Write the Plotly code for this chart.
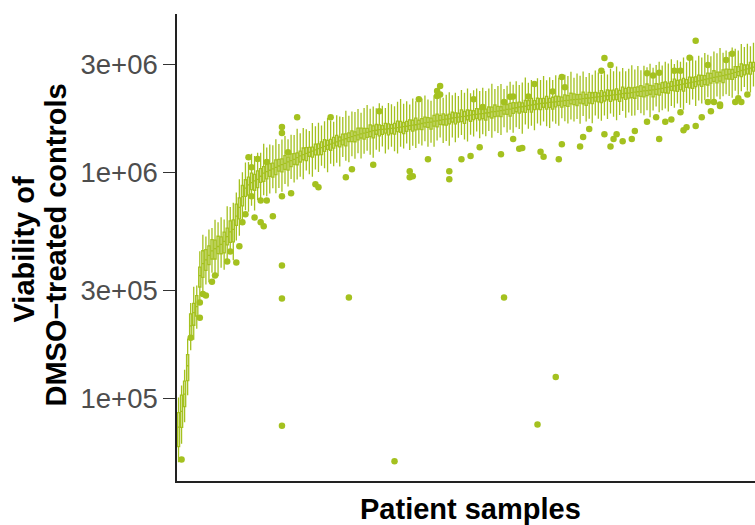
import plotly.graph_objects as go
import numpy as np

# Medians per patient sample (thousands), sorted ascending
median_k = [
    75, 88, 105, 140, 210, 240, 255, 350, 395, 410,
    430, 450, 460, 470, 480, 495, 520, 545, 560, 640,
    700, 780, 850, 880, 900, 915, 930, 960, 990, 1005,
    1020, 1035, 1050, 1065, 1080, 1095, 1110, 1125, 1140, 1160,
    1180, 1195, 1210, 1225, 1240, 1255, 1270, 1285, 1300, 1315,
    1330, 1345, 1360, 1375, 1390, 1405, 1420, 1435, 1450, 1462,
    1475, 1488, 1500, 1512, 1525, 1532, 1540, 1545, 1550, 1555,
    1560, 1565, 1572, 1580, 1590, 1595, 1605, 1615, 1620, 1630,
    1640, 1650, 1660, 1665, 1680, 1685, 1695, 1705, 1715, 1720,
    1735, 1740, 1750, 1760, 1765, 1775, 1785, 1795, 1800, 1810,
    1815, 1825, 1830, 1845, 1850, 1860, 1870, 1880, 1895, 1900,
    1915, 1925, 1940, 1945, 1955, 1970, 1980, 1990, 2000, 2010,
    2015, 2020, 2035, 2040, 2045, 2055, 2060, 2070, 2075, 2085,
    2090, 2095, 2100, 2110, 2120, 2125, 2135, 2145, 2150, 2160,
    2170, 2175, 2185, 2195, 2200, 2210, 2220, 2230, 2235, 2245,
    2255, 2265, 2275, 2285, 2290, 2300, 2310, 2320, 2330, 2345,
    2360, 2375, 2390, 2405, 2420, 2435, 2450, 2465, 2480, 2495,
    2510, 2530, 2545, 2565, 2580, 2600, 2620, 2635, 2655, 2670,
    2690, 2710, 2730, 2760, 2780, 2810, 2830, 2860, 2880, 2910,
]

# Box spread, percent below / above the median
q1_pct = [
    18,15,12,14,10,12,9,11,13,10, 9,8,10,7,9,11,8,10,12,9,
    11,9,8,10,7,9,8,6,8,7, 6,8,7,5,7,6,8,6,5,7,
    6,5,7,4,6,5,6,7,5,4, 6,5,4,6,5,7,4,5,6,5,
    4,6,5,5,7,4,6,5,4,6, 5,6,4,5,7,5,4,6,5,5,
    6,4,5,7,5,6,4,5,6,5, 4,6,5,5,7,4,6,5,4,6,
    5,7,4,6,5,5,6,4,5,7, 5,4,6,5,6,4,7,5,5,6,
    4,6,5,7,5,4,6,5,6,4, 5,6,4,5,7,5,6,4,5,6,
    5,4,6,5,5,7,4,6,5,5, 6,4,5,6,5,4,7,5,6,4,
    5,6,4,5,6,5,7,4,5,6, 5,4,6,5,6,5,4,6,5,7,
    4,5,6,5,4,6,5,5,6,4,
]
q3_pct = [
    16,18,14,12,13,10,12,9,14,11, 10,12,9,11,8,10,9,12,10,13,
    10,12,9,8,10,7,9,8,7,9, 7,6,8,7,6,8,5,7,6,5,
    5,7,6,5,4,6,5,6,7,5, 5,6,7,4,6,5,5,6,4,7,
    6,5,4,7,5,6,5,4,6,5, 4,5,7,6,4,5,6,5,7,4,
    5,6,5,4,6,7,5,6,4,5, 6,5,4,7,5,6,5,4,6,5,
    5,4,6,5,7,5,4,6,5,6, 6,5,5,4,6,5,7,4,6,5,
    5,7,4,5,6,5,4,6,5,7, 6,5,5,7,4,6,5,5,4,6,
    4,6,5,5,6,4,7,5,6,5, 5,5,6,4,7,5,4,6,5,6,
    6,4,5,7,5,5,6,4,6,5, 5,6,5,4,6,5,7,5,4,6,
    6,5,4,6,5,7,5,4,6,5,
]
# Whisker reach, percent below / above the median
wlo_pct = [
    30,28,25,26,22,24,20,23,26,22, 24,20,22,26,21,25,23,19,27,22,
    25,22,20,24,21,26,19,23,20,22, 21,18,23,20,24,19,22,17,21,20,
    19,22,16,20,23,18,21,17,20,24, 18,21,19,23,16,20,22,18,21,17,
    22,19,17,21,24,18,20,16,22,19, 17,21,23,18,20,16,22,19,21,18,
    20,17,22,19,23,18,16,21,20,24, 18,22,19,17,21,23,18,20,16,22,
    19,21,17,23,18,20,22,16,21,19, 22,18,20,24,17,21,19,23,18,20,
    17,21,23,18,20,22,16,19,21,18, 20,18,22,16,21,19,23,17,20,22,
    18,21,17,20,23,19,16,22,18,21, 21,17,20,22,18,24,19,16,21,20,
    19,22,18,20,17,21,23,18,20,16, 22,18,21,19,17,20,23,18,21,19,
    18,20,22,17,21,19,16,20,22,18,
]
whi_pct = [
    35,30,28,32,26,30,24,28,34,27, 30,26,34,28,32,25,36,29,31,27,
    33,28,30,26,34,29,31,27,35,28, 30,27,33,25,29,32,26,30,28,34,
    26,31,28,24,33,27,30,25,29,32, 27,24,31,28,26,33,25,29,27,30,
    24,29,32,26,28,25,31,27,24,30, 28,25,30,33,26,29,24,31,27,25,
    29,32,26,24,30,27,33,25,28,31, 26,29,24,31,27,32,25,28,30,26,
    30,25,28,33,26,29,31,24,27,32, 27,31,25,28,34,26,29,24,30,27,
    32,26,29,25,31,27,24,30,28,33, 25,30,27,32,24,29,26,31,28,25,
    29,24,31,27,33,26,30,25,28,32, 26,30,24,29,27,31,25,28,32,26,
    30,27,32,25,29,26,31,24,28,30, 24,29,26,31,28,25,30,27,33,26,
    28,25,30,27,24,31,26,29,25,28,
]

# Outlying measurements: sample index and value (thousands)
out_idx = [
    1, 4, 7, 7, 8, 9, 11, 12, 16, 17, 19, 20, 21, 22, 25, 27, 28, 31, 24, 27,
    29, 34, 37, 23, 24, 26, 29, 34, 34, 36, 34, 34, 34, 56, 71, 107, 124, 118,
    39, 45, 46, 55, 57, 64, 76, 76, 82, 89, 93, 96, 99, 106, 112, 119, 120, 125,
    132, 140, 143, 149, 158, 167, 172, 175, 178, 185, 126, 133, 135, 142, 144,
    146, 150, 154, 157, 160, 162, 166, 170, 165, 117, 126, 123, 127, 140, 142,
    139, 154, 156, 158, 163, 165, 168, 170, 174, 180, 182, 107, 110, 115, 174,
    176, 178, 183, 187, 184, 110, 113, 85, 85, 100, 97, 109, 66, 79, 50, 86, 86,
    77, 89,
]
out_val_k = [
    54, 186, 266, 228, 290, 286, 329, 350, 404, 447, 400, 471, 601, 652, 632,
    601, 577, 639, 783, 750, 750, 783, 808, 1165, 1053, 1143, 1110, 1582, 1490,
    1225, 388, 277, 76, 280, 53, 280, 125, 77,
    1750, 885, 859, 951, 1030, 1080, 951, 1010, 1140, 931, 1140, 1180, 1290,
    1200, 1270, 1230, 1170, 1140, 1300, 1470, 1400, 1400, 1400, 1580, 1750,
    1860, 1960, 2040, 1330, 1430, 1550, 1300, 1470, 1370, 1520, 1670, 1750,
    1670, 1710, 1530, 1600, 1840, 2450, 2630, 2270, 2370, 3190, 2970, 2800,
    2730, 2670, 2750, 2800, 2800, 3200, 3800, 2970, 3130, 3330, 2040, 2160,
    2160, 2040, 2040, 1990, 2040, 2200, 2120, 1400, 1280, 2280, 2170, 1940,
    2100, 2150, 1860, 2100, 1750, 2400, 2200, 960, 1010,
]

GREEN = "#A4C11F"
FILL = "rgba(164,193,31,0.45)"
FONT = "Liberation Sans, Arial, sans-serif"

idx = list(range(len(median_k)))
med = np.array(median_k) * 1000.0
q1 = med * (1 - np.array(q1_pct) / 100.0)
q3 = med * (1 + np.array(q3_pct) / 100.0)
lo = med * (1 - np.array(wlo_pct) / 100.0)
hi = med * (1 + np.array(whi_pct) / 100.0)

fig = go.Figure()
fig.add_trace(go.Box(
    x=idx, q1=q1, median=med, q3=q3, lowerfence=lo, upperfence=hi,
    boxpoints=False, width=0.72, whiskerwidth=0,
    line=dict(color=GREEN, width=1.3), fillcolor=FILL,
    showlegend=False, hoverinfo="skip",
))
fig.add_trace(go.Scatter(
    x=out_idx, y=np.array(out_val_k) * 1000.0, mode="markers",
    marker=dict(color=GREEN, size=6.5, line=dict(width=0)),
    showlegend=False, hoverinfo="skip",
))

W, H = 755, 525
ml, mr, mt, mb = 177, 0, 14, 44
pw, ph = W - ml - mr, H - mt - mb

fig.update_layout(
    width=W, height=H,
    margin=dict(l=ml, r=mr, t=mt, b=mb, pad=0),
    paper_bgcolor="white", plot_bgcolor="white",
    font=dict(family=FONT),
    xaxis=dict(
        range=[-0.5, len(median_k) - 0.5], showticklabels=False, ticks="",
        showgrid=False, zeroline=False, showline=True,
        linecolor="#222222", linewidth=1.5,
    ),
    yaxis=dict(
        type="log", range=[np.log10(4.34e4), np.log10(4.99e6)],
        tickvals=[1e5, 3e5, 1e6, 3e6],
        ticktext=["1e+05", "3e+05", "1e+06", "3e+06"],
        ticks="outside", ticklen=12, tickwidth=1.3, tickcolor="#333333",
        tickfont=dict(size=27.5, color="#4D4D4D", family=FONT),
        showgrid=False, zeroline=False, showline=True,
        linecolor="#222222", linewidth=1.5,
    ),
)

def px_x(p):
    return (p - ml) / pw

def px_y(p):
    return (H - mb - p) / ph

fig.add_annotation(text="<b>Viability of</b>", textangle=-90,
                   xref="paper", yref="paper", x=px_x(23.5), y=px_y(250),
                   xanchor="center", yanchor="middle", showarrow=False,
                   font=dict(size=29, color="black", family=FONT))
fig.add_annotation(text="<b>DMSO−treated controls</b>", textangle=-90,
                   xref="paper", yref="paper", x=px_x(55.5), y=px_y(245),
                   xanchor="center", yanchor="middle", showarrow=False,
                   font=dict(size=29, color="black", family=FONT))
fig.add_annotation(text="<b>Patient samples</b>",
                   xref="paper", yref="paper", x=px_x(470), y=px_y(509),
                   xanchor="center", yanchor="middle", showarrow=False,
                   font=dict(size=29, color="black", family=FONT))

fig.write_html(
    "out.html",
    config={"displayModeBar": False},
    post_script="document.body.style.margin='0';document.body.style.overflow='hidden';",
)
